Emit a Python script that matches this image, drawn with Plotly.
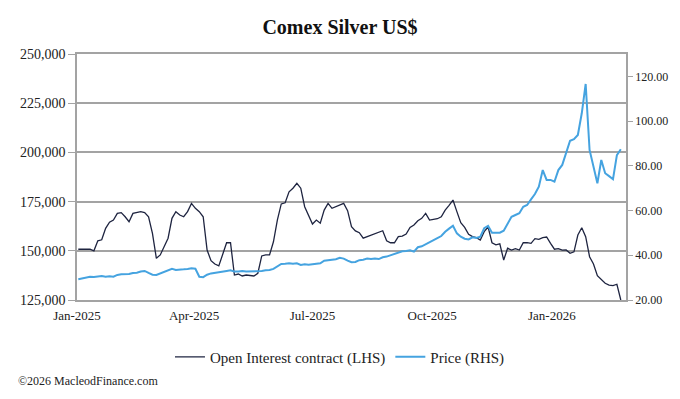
import pandas as pd
import plotly.graph_objects as go

# ---- data ----
dates = pd.date_range("2025-01-02", periods=140, freq="3D")

open_interest = [
    150800, 150800, 151100, 150800, 150000, 155100, 155600, 161400, 164500, 165600,
    169000, 169400, 167300, 164800, 169000, 169400, 169900, 169400, 167300, 158900,
    146200, 147900, 152100, 156400, 166500, 169900, 168200, 167300, 169900, 174100,
    171600, 169900, 167300, 150400, 145000, 143300, 142300, 147900, 154100, 154100,
    137700, 138200, 137200, 137700, 137600, 137200, 138600, 147400, 147900, 147900,
    154600, 165600, 173800, 174400, 180000, 181800, 184300, 181800, 172400, 168200,
    163600, 165600, 164000, 170700, 174100, 171600, 172400, 173400, 174100, 170400,
    162300, 160100, 159200, 156400, 157200, 158000, 158500, 159400, 160200, 155100,
    154100, 154100, 157200, 157500, 158500, 161900, 163100, 165300, 166500, 169000,
    165600, 166000, 166300, 167300, 170700, 173100, 175800, 169900, 164300, 161900,
    158400, 157200, 156700, 155500, 159700, 162100, 154100, 153000, 153500, 145300,
    151300, 150400, 151100, 150400, 154100, 154100, 153800, 156200, 155800, 156700,
    157000, 153800, 150800, 151100, 150300, 150400, 148700, 149500, 158000, 161700,
    157200, 147000, 143300, 137400, 135300, 133500, 132600, 132300, 133000, 125000,
]

price = [
    29.3, 29.7, 30.2, 30.4, 30.3, 30.6, 30.7, 30.4, 30.6, 30.4,
    31.2, 31.5, 31.6, 31.6, 32.1, 32.2, 32.7, 33.0, 32.1, 31.3,
    31.2, 31.9, 32.5, 33.3, 33.9, 33.4, 33.7, 33.7, 33.9, 34.2,
    34.0, 30.4, 30.2, 31.3, 31.9, 32.1, 32.5, 32.7, 33.0, 33.3,
    32.7, 32.7, 33.0, 32.7, 32.7, 32.8, 32.7, 33.0, 33.3, 33.4,
    33.9, 34.9, 36.1, 36.2, 36.4, 36.2, 36.4, 35.7, 36.0, 35.8,
    36.0, 36.5, 36.4, 37.6, 37.9, 37.9, 38.2, 38.9, 38.5, 37.6,
    36.9, 37.0, 37.8, 38.0, 38.5, 38.3, 38.6, 38.3, 39.1, 39.4,
    40.0, 40.9, 41.3, 41.8, 41.9, 42.2, 41.6, 43.6, 44.0, 45.0,
    45.9, 46.8, 47.7, 48.6, 50.5, 51.9, 53.2, 49.8, 48.3, 47.4,
    47.1, 48.0, 47.7, 48.3, 52.1, 53.1, 50.1, 50.1, 50.1, 51.0,
    54.0, 57.2, 58.0, 58.8, 61.7, 62.5, 65.0, 67.4, 70.7, 78.1,
    73.7, 73.7, 72.9, 78.1, 80.4, 85.6, 91.2, 91.9, 93.8, 103.5,
    116.6, 87.1, 79.9, 72.2, 82.6, 76.7, 75.4, 74.0, 84.8, 87.4,
]

x_tick_vals = ["2025-01-01", "2025-04-01", "2025-07-01", "2025-10-01", "2026-01-01"]
x_tick_text = ["Jan-2025", "Apr-2025", "Jul-2025", "Oct-2025", "Jan-2026"]
left_ticks = [125000, 150000, 175000, 200000, 225000, 250000]
right_ticks = [20, 40, 60, 80, 100, 120]

series_names = ["Open Interest contract (LHS)", "Price (RHS)"]
title_text = "Comex Silver US$"
footer_text = "©2026 MacleodFinance.com"

# ---- styling ----
FONT = "Liberation Serif, Times New Roman, serif"
NAVY = "#1e2440"
BLUE = "#45a3e0"
GRID = "#a3a3a3"

# the page body has an 8px default margin, so the figure is 8px smaller
W, H = 672, 391

fig = go.Figure()
fig.add_trace(go.Scatter(x=dates, y=open_interest, name=series_names[0],
                         mode="lines", line=dict(color=NAVY, width=1.3), yaxis="y"))
fig.add_trace(go.Scatter(x=dates, y=price, name=series_names[1],
                         mode="lines", line=dict(color=BLUE, width=2), yaxis="y2"))

fig.update_layout(
    width=W, height=H,
    margin=dict(l=56, r=52, t=46, b=99),
    paper_bgcolor="white", plot_bgcolor="white",
    font=dict(family=FONT, size=13, color="#222"),
    title=dict(text="<b>" + title_text + "</b>", x=(340 - 8) / W, xanchor="center",
               y=1 - 19 / H, yanchor="middle", yref="container",
               font=dict(family=FONT, size=20, color="#111")),
    xaxis=dict(type="date", range=["2025-01-01", "2026-02-27"],
               tickvals=x_tick_vals, ticktext=x_tick_text,
               ticks="outside", ticklen=3, tickcolor="rgba(0,0,0,0)",
               showgrid=False, showline=True, linecolor=GRID, linewidth=1.5,
               mirror=True, zeroline=False,
               tickfont=dict(family=FONT, size=13, color="#222")),
    yaxis=dict(range=[125000, 250000], tickvals=left_ticks, tickformat=",.0f",
               showgrid=True, gridcolor=GRID, gridwidth=1.5,
               showline=True, linecolor=GRID, linewidth=1.5,
               ticks="outside", ticklen=7, tickcolor=GRID, zeroline=False,
               tickfont=dict(family=FONT, size=14, color="#222")),
    yaxis2=dict(range=[20, 130], tickvals=right_ticks, tickformat=".2f",
                overlaying="y", side="right", showgrid=False,
                showline=True, linecolor=GRID, linewidth=1.5,
                ticks="outside", ticklen=5, tickcolor=GRID, zeroline=False,
                tickfont=dict(family=FONT, size=12, color="#222")),
    showlegend=True,
    legend=dict(orientation="h", x=0.479, xanchor="center", y=-0.232, yanchor="middle",
                font=dict(family=FONT, size=15, color="#222"),
                bgcolor="rgba(0,0,0,0)", itemwidth=30),
)

fig.add_annotation(text=footer_text, xref="paper", yref="paper",
                   x=(1 - 64) / 564, y=(300 - 381) / 246,
                   xanchor="left", yanchor="middle", showarrow=False,
                   font=dict(family=FONT, size=12, color="#222"))

fig.write_html("out.html")
